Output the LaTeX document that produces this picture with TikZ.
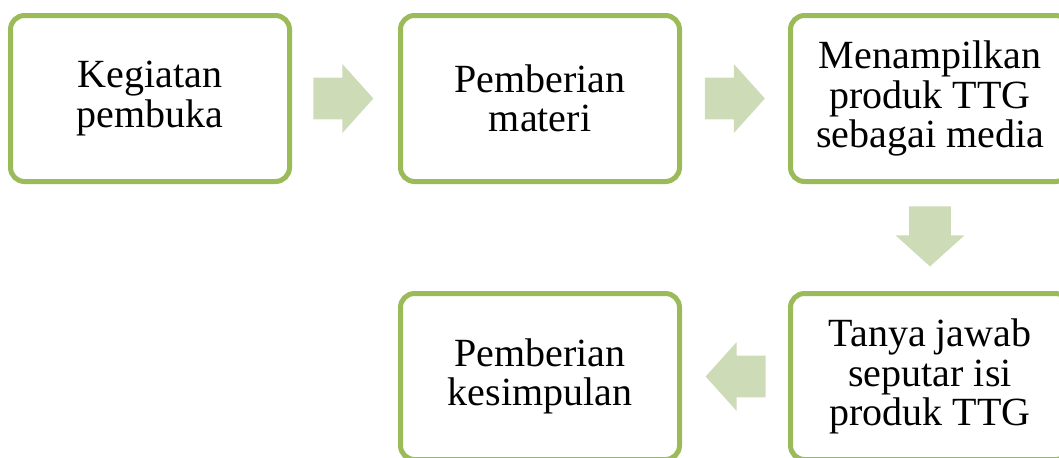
\documentclass[tikz,border=0pt]{standalone}
\usepackage{fontspec}
\setmainfont{Liberation Serif}
\usetikzlibrary{shapes.arrows, positioning}
\definecolor{boxgreen}{RGB}{155,187,89}
\definecolor{arrowgreen}{RGB}{205,220,183}
\tikzstyle{stepbox} = [
  rectangle,
  rounded corners=7pt,
  minimum width=139.5pt,
  minimum height=83pt,
  text centered,
  align=center,
  draw=boxgreen,
  line width=2.5pt,
  inner sep=0,
  outer sep=0,
  fill=white,
  font=\fontsize{20}{19.75}\selectfont
]
\tikzstyle{blockarrow} = [
  single arrow,
  single arrow head extend=6.75pt,
  single arrow tip angle=96,
  minimum height=30pt,
  inner xsep=0,
  inner ysep=10.25pt,
  fill=arrowgreen
]

\begin{document}
\begin{tikzpicture}[node distance=55.5pt]
      \useasboundingbox (0,0) rectangle (529.5pt,-228.5pt);

      \node [stepbox] (pembuka) at (75pt,-49.25pt) {Kegiatan\\pembuka};
      \node [stepbox, right=of pembuka] (materi) {Pemberian\\materi};
      \node [stepbox, right=of materi] (media) {Menampilkan\\produk TTG\\sebagai media};
      \node [stepbox, below=56pt of media] (tanya) {Tanya jawab\\seputar isi\\produk TTG};
      \node [stepbox, left=of tanya] (simpulan) {Pemberian\\kesimpulan};

      \node [blockarrow, right=11.75pt of pembuka, anchor=tail] (arrow1) {};
      \node [blockarrow, right=12.5pt of materi, anchor=tail] (arrow2) {};
      \node [blockarrow, rotate=-90, below=12.25pt of media, anchor=tail] (arrow3) {};
      \node [blockarrow, rotate=180, left=12.25pt of tanya, anchor=tail] (arrow4) {};

    \end{tikzpicture}
\end{document}
